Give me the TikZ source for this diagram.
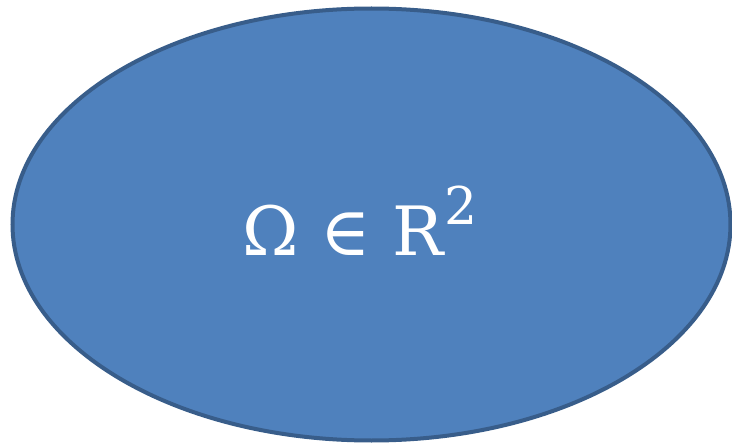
\documentclass[tikz,border=0pt]{standalone}
\usepackage{fontspec}
\usepackage{xcolor}
\usepackage{tikz}
\usetikzlibrary{shapes.geometric}
\setmainfont{DejaVu Serif}
\definecolor{domfill}{HTML}{4F81BD}
\definecolor{domline}{HTML}{385D8A}
\tikzset{
  regionshape/.style={ellipse,draw=domline,fill=domfill,line width=4pt,
    minimum width=718pt,minimum height=432pt,inner sep=0pt},
  regionlabel/.style={text=white,font=\fontsize{68}{76}\selectfont,inner sep=0pt}
}

\begin{document}
\begin{tikzpicture}[x=1pt,y=-1pt]
\useasboundingbox (0,0) rectangle (732,444);
\node[regionshape] (omega) at (371.5,224.5) {};
\node[regionlabel,anchor=base] (lab) at (360,255) {Ω ∈ R\raisebox{0.45em}{\fontsize{52}{54}\selectfont 2}};
\end{tikzpicture}
\end{document}
